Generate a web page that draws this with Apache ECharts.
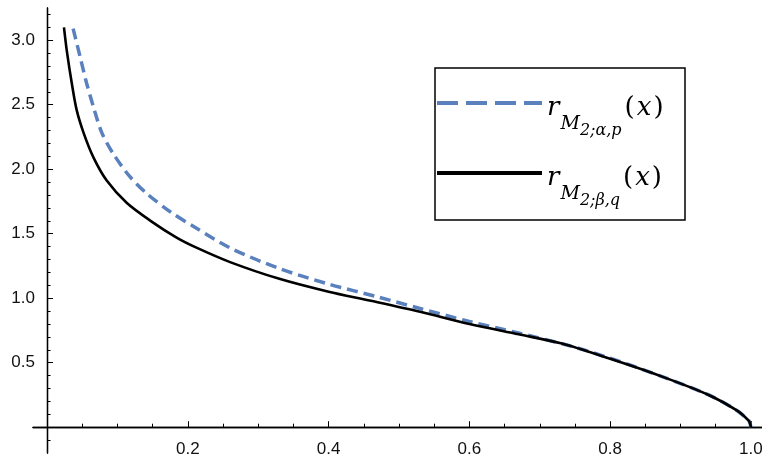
<!DOCTYPE html>
<html>
<head>
<meta charset="utf-8">
<script src="https://cdn.jsdelivr.net/npm/echarts@6/dist/echarts.min.js"></script>
<style>
  html, body { margin: 0; padding: 0; background: #fff; }
  #chart { width: 762px; height: 460px; }
</style>
</head>
<body>
<div id="chart"></div>
<script>
// curve samples
const xAlpha = [0.037, 0.047, 0.056, 0.066, 0.078, 0.094, 0.118, 0.142, 0.175, 0.21, 0.26, 0.33, 0.40, 0.47, 0.53, 0.60, 0.67, 0.74, 0.80, 0.87, 0.94, 0.98, 0.997, 0.999, 1.0];
const yAlpha = [3.09, 2.87, 2.67, 2.48, 2.28, 2.12, 1.94, 1.81, 1.67, 1.55, 1.39, 1.23, 1.11, 1.01, 0.92, 0.82, 0.73, 0.635, 0.535, 0.40, 0.25, 0.13, 0.05, 0.025, 0];

const xBeta = [0.024, 0.028, 0.035, 0.042, 0.052, 0.066, 0.085, 0.113, 0.147, 0.184, 0.213, 0.26, 0.33, 0.40, 0.46, 0.53, 0.60, 0.67, 0.73, 0.80, 0.87, 0.94, 0.98, 0.997, 0.999, 1.0];
const yBeta = [3.10, 2.92, 2.67, 2.46, 2.28, 2.09, 1.91, 1.74, 1.60, 1.47, 1.39, 1.28, 1.15, 1.05, 0.98, 0.895, 0.80, 0.72, 0.65, 0.53, 0.40, 0.25, 0.13, 0.05, 0.025, 0];

const xMajor = [0.2, 0.4, 0.6, 0.8, 1.0];
const xMinor = [0.05, 0.1, 0.15, 0.25, 0.3, 0.35, 0.45, 0.5, 0.55, 0.65, 0.7, 0.75, 0.85, 0.9, 0.95];
const yMajor = [0.5, 1.0, 1.5, 2.0, 2.5, 3.0];
const yMinor = [-0.1, 0.1, 0.2, 0.3, 0.4, 0.6, 0.7, 0.8, 0.9, 1.1, 1.2, 1.3, 1.4, 1.6, 1.7, 1.8, 1.9, 2.1, 2.2, 2.3, 2.4, 2.6, 2.7, 2.8, 2.9, 3.1, 3.2];

const zip = (xs, ys) => xs.map((x, i) => [x, ys[i]]);

const mathFont = 'DejaVu Serif';
const rich = {
  r: { fontFamily: mathFont, fontStyle: 'italic', fontSize: 26, color: '#000', verticalAlign: 'bottom', padding: [0, 1, 17, 0] },
  m: { fontFamily: mathFont, fontStyle: 'italic', fontSize: 19, color: '#000', verticalAlign: 'bottom', padding: [0, 0, 5, 0] },
  s: { fontFamily: mathFont, fontStyle: 'italic', fontSize: 16, color: '#000', verticalAlign: 'bottom', padding: [0, 2, 0, 0] },
  p: { fontFamily: mathFont, fontSize: 26, color: '#000', verticalAlign: 'bottom', padding: [0, 1, 17, 1] },
  x: { fontFamily: mathFont, fontStyle: 'italic', fontSize: 26, color: '#000', verticalAlign: 'bottom', padding: [0, 1, 17, 1] }
};

function legendLabel(name) {
  const sub = name === 'alpha' ? '2;α,p' : '2;β,q';
  return '{r|r}{m|M}{s|' + sub + '}{p|(}{x|x}{p|)}';
}

function makeLegend(name, top, lineStyle) {
  return {
    data: [{ name: name, lineStyle: lineStyle, itemStyle: { opacity: 0 } }],
    left: 435,
    top: top,
    orient: 'vertical',
    padding: 0,
    itemWidth: 105,
    itemHeight: 20,
    selectedMode: false,
    formatter: legendLabel,
    textStyle: { rich: rich, padding: [28, 0, 0, 0] }
  };
}

const tickFont = { fontFamily: 'Liberation Sans Narrow, Liberation Sans, sans-serif', fontSize: 17, color: '#111' };

const chart = echarts.init(document.getElementById('chart'));
chart.setOption({
  animation: false,
  grid: { left: 33, top: 8, width: 732, height: 445, outerBoundsMode: 'none', containLabel: false },
  xAxis: [
    {
      type: 'value', min: -0.02, max: 1.02, position: 'bottom',
      axisLine: { onZero: true, lineStyle: { color: '#000', width: 1.3 } },
      axisTick: { inside: true, length: 6, customValues: xMajor, lineStyle: { color: '#000', width: 1 } },
      axisLabel: Object.assign({ customValues: xMajor, margin: -12, formatter: v => v.toFixed(1) }, tickFont),
      splitLine: { show: false }
    },
    {
      type: 'value', min: -0.02, max: 1.02, position: 'bottom',
      axisLine: { onZero: true, onZeroAxisIndex: 0, lineStyle: { color: '#000', width: 1.3 } },
      axisTick: { inside: true, length: 3.5, customValues: xMinor, lineStyle: { color: '#000', width: 1 } },
      axisLabel: { show: false },
      splitLine: { show: false }
    }
  ],
  yAxis: [
    {
      type: 'value', min: -0.2, max: 3.25, position: 'left',
      axisLine: { onZero: true, lineStyle: { color: '#000', width: 1.3 } },
      axisTick: { inside: true, length: 6, customValues: yMajor, lineStyle: { color: '#000', width: 1 } },
      axisLabel: Object.assign({ customValues: yMajor, margin: -2, formatter: v => v.toFixed(1) }, tickFont),
      splitLine: { show: false }
    },
    {
      type: 'value', min: -0.2, max: 3.25, position: 'left',
      axisLine: { onZero: true, onZeroAxisIndex: 0, lineStyle: { color: '#000', width: 1.3 } },
      axisTick: { inside: true, length: 3.5, customValues: yMinor, lineStyle: { color: '#000', width: 1 } },
      axisLabel: { show: false },
      splitLine: { show: false }
    }
  ],
  legend: [
    makeLegend('alpha', 95, { type: [21, 8], width: 4 }),
    makeLegend('beta', 165, { width: 4 })
  ],
  graphic: [{
    type: 'rect',
    shape: { x: 435, y: 68, width: 250, height: 152 },
    style: { fill: 'none', stroke: '#000', lineWidth: 1.5 },
    z: 10
  }],
  series: [
    {
      name: 'alpha', type: 'line', data: zip(xAlpha, yAlpha),
      symbol: 'none', smooth: 0.3,
      lineStyle: { color: '#5a80bd', width: 3.5, type: [11, 6] },
      itemStyle: { color: '#5a80bd' }, z: 3
    },
    {
      name: 'beta', type: 'line', data: zip(xBeta, yBeta),
      symbol: 'none', smooth: 0.3,
      lineStyle: { color: '#000', width: 2.6 },
      itemStyle: { color: '#000' }, z: 4
    }
  ]
});
</script>
</body>
</html>
